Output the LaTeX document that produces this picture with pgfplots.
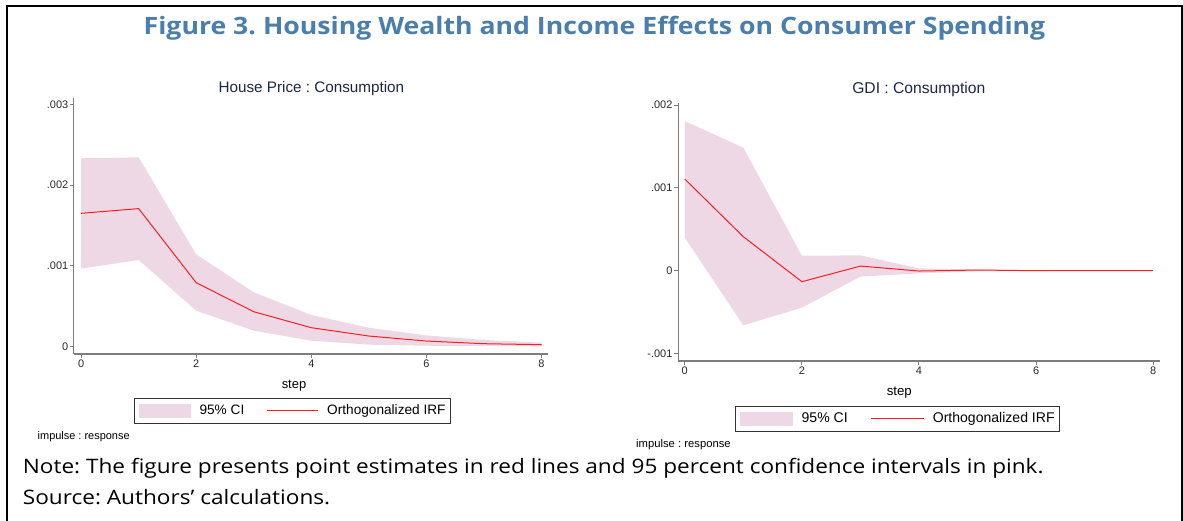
\documentclass[border=0pt]{standalone}
\usepackage{fontspec}
\setmainfont{Liberation Sans}
\newfontfamily\notefont{Open Sans}
\usepackage{graphicx}
\usepackage{pgfplots}
\pgfplotsset{compat=1.18}
\usepackage{pgfplotstable}
\frenchspacing

\definecolor{pinkfill}{RGB}{238,216,230}
\definecolor{irfred}{RGB}{250,30,30}
\definecolor{axgray}{RGB}{125,125,125}
\definecolor{ticktxt}{RGB}{40,40,40}
\definecolor{ttlnavy}{RGB}{28,38,70}
\definecolor{figblue}{RGB}{74,126,172}

% House Price : Consumption  (orthogonalized IRF)
\pgfplotstableread{
step irf
0 0.001651
1 0.001709
2 0.000792
3 0.000433
4 0.000235
5 0.000132
6 0.000070
7 0.000037
8 0.000025
}\houseirf
% 95% CI band: upper bound 0..8, then lower bound 8..0
\pgfplotstableread{
step ci
0 0.002332
1 0.002344
2 0.001143
3 0.000673
4 0.000392
5 0.000235
6 0.000140
7 0.000083
8 0.000050
8 0.000005
7 0.000008
6 0.000012
5 0.000025
4 0.000074
3 0.000198
2 0.000446
1 0.001073
0 0.000966
}\houseci

% GDI : Consumption
\pgfplotstableread{
step irf
0 0.001107
1 0.000411
2 -0.000133
3 0.000056
4 -0.000004
5 0.000008
6 0.000000
7 0.000000
8 0.000000
}\gdiirf
\pgfplotstableread{
step ci
0 0.001808
1 0.001486
2 0.000181
3 0.000185
4 0.000028
5 0.000016
6 0.000005
7 0.000002
8 0.000001
8 -0.000001
7 -0.000002
6 -0.000004
5 -0.000008
4 -0.000032
3 -0.000072
2 -0.000447
1 -0.000660
0 0.000399
}\gdici

\pgfplotsset{
  stataaxis/.style={
    scale only axis,
    axis lines=left,
    axis line style={-, axgray, line width=1.1bp},
    tick style={axgray, line width=1bp},
    tick align=outside,
    major tick length=4bp,
    scaled y ticks=false,
    xtick={0,2,4,6,8},
    xticklabels={0,2,4,6,8},
    ticklabel style={font=\fontsize{11}{12}\selectfont, text=ticktxt},
    yticklabel style={inner sep=1.5bp},
    xticklabel style={inner sep=2bp},
    legend columns=2,
    legend style={
      draw=black!80, line width=0.9bp,
      inner xsep=5bp, inner ysep=5.5bp,
      nodes={inner sep=0bp, text height=9.8bp, text depth=3bp,
             font=\fontsize{13.7}{14}\selectfont, text=black},
      /tikz/every odd column/.style={column sep=8.4bp},
      /tikz/every even column/.style={column sep=21.8bp},
    },
  },
}

\begin{document}
\begin{tikzpicture}[x=1bp,y=1bp]
\useasboundingbox (0,0) rectangle (1183,521);
\draw[line width=2bp, black] (7,0) -- (7,515) -- (1182,515) -- (1182,0);

\node[anchor=base, inner sep=0, font=\notefont\bfseries\fontsize{24}{28}\selectfont, text=figblue]
  at (594.5,486.7) {\scalebox{1.115}[1]{Figure 3. Housing Wealth and Income Effects on Consumer Spending}};

% Left panel
\begin{axis}[stataaxis,
  at={(73.9bp,167bp)}, anchor=south west,
  width=474.5bp, height=256.3bp,
  xmin=-0.125, xmax=8.12,
  ymin=-0.0000903, ymax=0.003082,
  ytick={0,0.001,0.002,0.003},
  yticklabels={0,.001,.002,.003},
  legend style={at={(0.1267,-0.1705)}, anchor=north west},
]
\addplot[fill=pinkfill, draw=none,
  legend image code/.code={\fill[pinkfill] (0bp,-7bp) rectangle (51.7bp,7bp);}]
  table[x=step, y=ci] {\houseci} -- cycle;
\addlegendentry{95\% CI}
\addplot[irfred, line width=1bp, mark=none,
  legend image code/.code={\draw[irfred, line width=1bp] (0bp,0bp) -- (51.7bp,0bp);}]
  table[x=step, y=irf] {\houseirf};
\addlegendentry{Orthogonalized IRF}
\end{axis}

% Right panel
\begin{axis}[stataaxis,
  at={(678.1bp,160bp)}, anchor=south west,
  width=481.4bp, height=258.3bp,
  xmin=-0.114, xmax=8.108,
  ymin=-0.001091, ymax=0.002030,
  ytick={-0.001,0,0.001,0.002},
  yticklabels={-.001,0,.001,.002},
  legend style={at={(0.1174,-0.1731)}, anchor=north west,
    nodes={font=\fontsize{14.1}{15}\selectfont},
    /tikz/every odd column/.style={column sep=8.6bp},
    /tikz/every even column/.style={column sep=22.5bp}},
]
\addplot[fill=pinkfill, draw=none,
  legend image code/.code={\fill[pinkfill] (0bp,-7bp) rectangle (53bp,7bp);}]
  table[x=step, y=ci] {\gdici} -- cycle;
\addlegendentry{95\% CI}
\addplot[irfred, line width=1bp, mark=none,
  legend image code/.code={\draw[irfred, line width=1bp] (0bp,0bp) -- (53bp,0bp);}]
  table[x=step, y=irf] {\gdiirf};
\addlegendentry{Orthogonalized IRF}
\end{axis}

% panel titles and labels
\node[anchor=base, inner sep=0, font=\fontsize{15.3}{17}\selectfont, text=ttlnavy] at (311.4,428.5) {House Price : Consumption};
\node[anchor=base, inner sep=0, font=\fontsize{15.7}{17}\selectfont, text=ttlnavy] at (918.8,427.5) {GDI : Consumption};
\node[anchor=base, inner sep=0, font=\fontsize{13}{15}\selectfont, text=black] at (294,132) {step};
\node[anchor=base, inner sep=0, font=\fontsize{13.3}{15}\selectfont, text=black] at (899.3,125) {step};
\node[anchor=base west, inner sep=0, font=\fontsize{11}{12}\selectfont, text=black] at (37.5,81.5) {impulse : response};
\node[anchor=base west, inner sep=0, font=\fontsize{11.3}{12}\selectfont, text=black] at (636,73.5) {impulse : response};

\node[anchor=base west, inner sep=0, font=\notefont\fontsize{20}{22}\selectfont] at (22.7,47)
  {\scalebox{1.134}[1]{Note: The figure presents point estimates in red lines and 95 percent confidence intervals in pink.}};
\node[anchor=base west, inner sep=0, font=\notefont\fontsize{20}{22}\selectfont] at (22.7,16)
  {\scalebox{1.134}[1]{Source: Authors’ calculations.}};
\end{tikzpicture}
\end{document}
